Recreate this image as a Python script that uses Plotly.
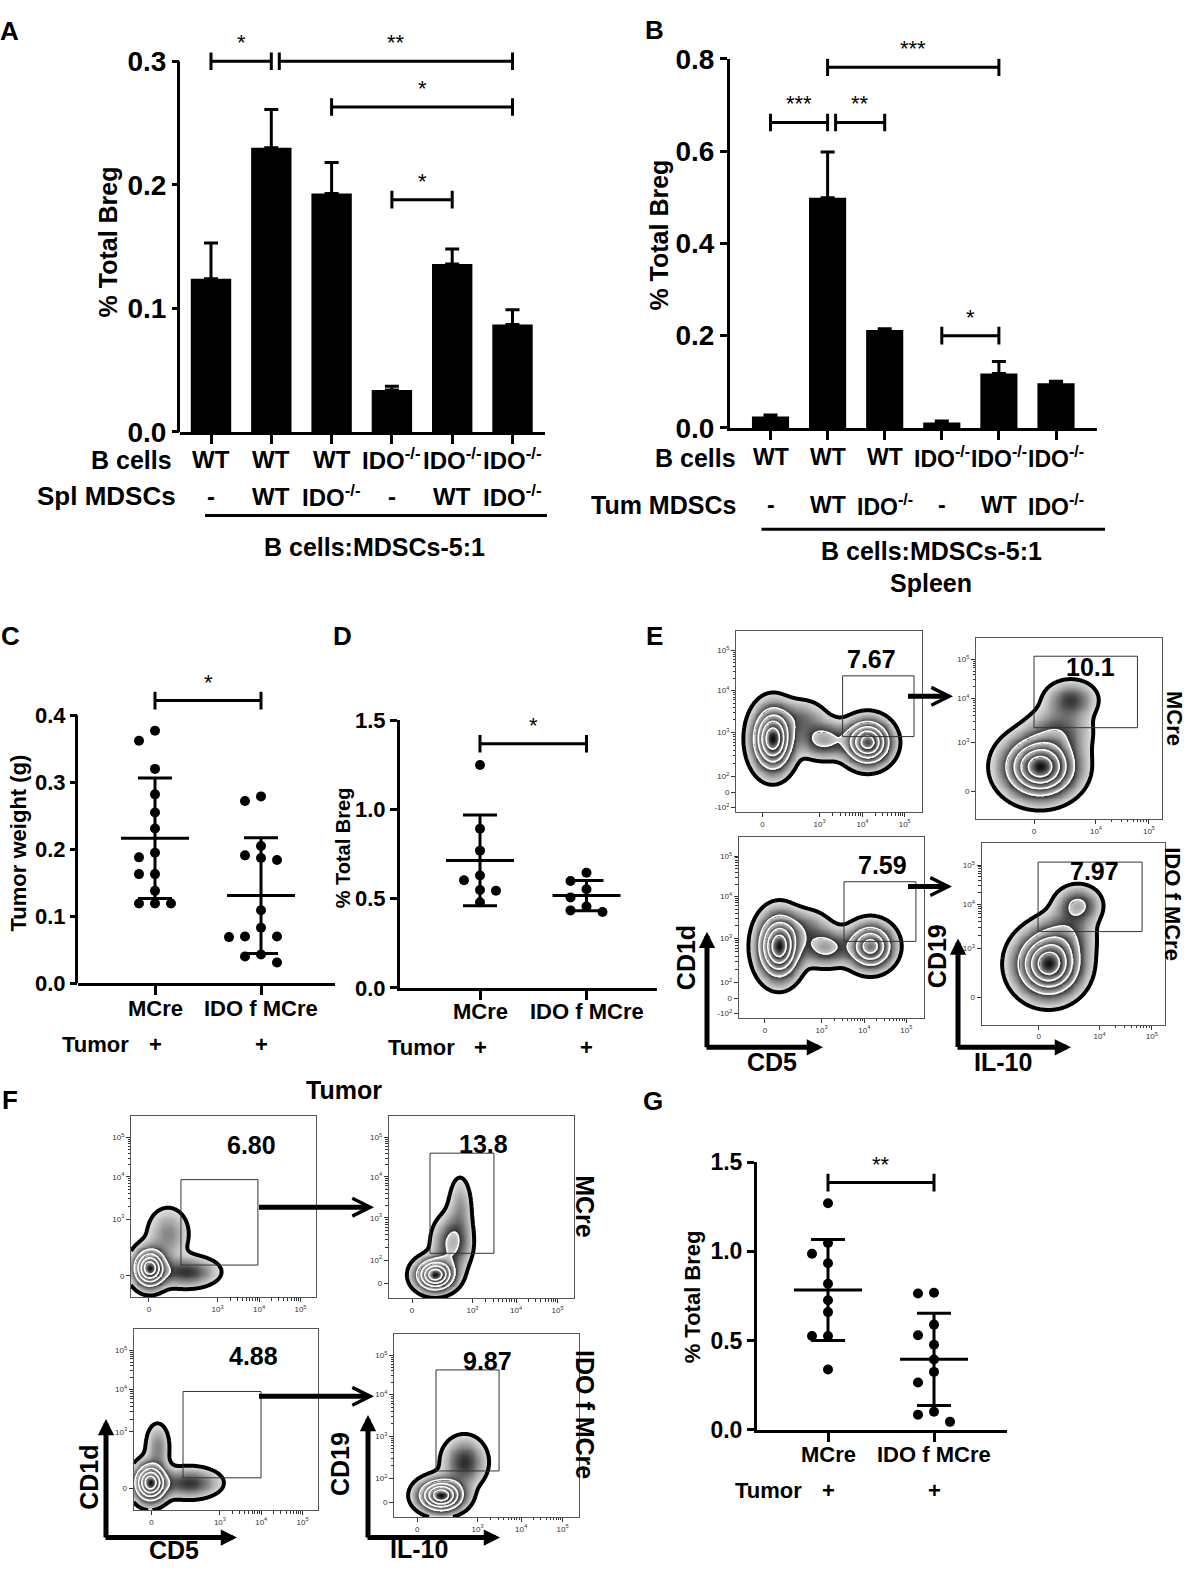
import numpy as np
import plotly.graph_objects as go

W, H = 1192, 1581
FONT = "Liberation Sans, Arial, Helvetica, sans-serif"

# ---------------- data: panel A (spleen MDSCs) ----------------
A_bcells = ["WT", "WT", "WT", "IDO-/-", "IDO-/-", "IDO-/-"]
A_mdscs = ["-", "WT", "IDO-/-", "-", "WT", "IDO-/-"]
A_mean = [0.124, 0.230, 0.193, 0.034, 0.136, 0.087]
A_sem = [0.029, 0.031, 0.025, 0.003, 0.012, 0.012]
A_ticks = [0.0, 0.1, 0.2, 0.3]
A_brackets = [(0, 1, 0.300, "*"), (1, 5, 0.300, "**"), (2, 5, 0.263, "*"), (3, 4, 0.188, "*")]

# ---------------- data: panel B (tumor MDSCs) ----------------
B_bcells = ["WT", "WT", "WT", "IDO-/-", "IDO-/-", "IDO-/-"]
B_mdscs = ["-", "WT", "IDO-/-", "-", "WT", "IDO-/-"]
B_mean = [0.025, 0.499, 0.212, 0.012, 0.118, 0.097]
B_sem = [0.003, 0.099, 0.003, 0.003, 0.026, 0.004]
B_ticks = [0.0, 0.2, 0.4, 0.6, 0.8]
B_brackets = [(0, 1, 0.662, "***"), (1, 2, 0.662, "**"), (1, 4, 0.782, "***"), (3, 4, 0.200, "*")]

# ---------------- data: scatter panels C, D, G ----------------
groups = ["MCre", "IDO f MCre"]
C_mcre = [0.377, 0.362, 0.320, 0.282, 0.255, 0.231, 0.195, 0.188, 0.163, 0.163, 0.138, 0.119, 0.119, 0.119]
C_ido = [0.279, 0.272, 0.205, 0.191, 0.187, 0.184, 0.109, 0.083, 0.070, 0.070, 0.069, 0.043, 0.040, 0.031]
C_ticks = [0.0, 0.1, 0.2, 0.3, 0.4]
C_brackets = [(0, 1, 0.422, "*")]

D_mcre = [1.249, 0.892, 0.769, 0.630, 0.603, 0.548, 0.544, 0.480]
D_ido = [0.645, 0.599, 0.553, 0.507, 0.456, 0.434, 0.425]
D_ticks = [0.0, 0.5, 1.0, 1.5]
D_brackets = [(0, 1, 1.368, "*")]

G_mcre = [1.269, 1.046, 0.986, 0.933, 0.818, 0.726, 0.659, 0.525, 0.525, 0.337]
G_ido = [0.768, 0.763, 0.589, 0.529, 0.476, 0.393, 0.324, 0.265, 0.101, 0.084, 0.044]
G_ticks = [0.0, 0.5, 1.0, 1.5]
G_brackets = [(0, 1, 1.385, "**")]

# ---------------- data: flow plots E (spleen) and F (tumor) ----------------
E_cd5_pos = [0.142, 0.449, 0.680, 0.907]
E_cd5_lab = ["0", "10^3", "10^4", "10^5"]
E_cd1d_pos = [0.027, 0.108, 0.195, 0.438, 0.670, 0.892]
E_cd1d_lab = ["-10^2", "0", "10^2", "10^3", "10^4", "10^5"]
E_il10_pos = [0.312, 0.645, 0.930]
E_il10_lab = ["0", "10^4", "10^5"]
E_cd19_pos = [0.151, 0.422, 0.665, 0.880]
E_cd19_lab = ["0", "10^3", "10^4", "10^5"]
F_cd5_pos = [0.097, 0.468, 0.692, 0.916]
F_cd5_lab = ["0", "10^3", "10^4", "10^5"]
F_cd1d_pos = [0.119, 0.432, 0.665, 0.881]
F_cd1d_lab = ["0", "10^3", "10^4", "10^5"]
F_il10_pos = [0.126, 0.452, 0.687, 0.911]
F_il10_lab = ["0", "10^3", "10^4", "10^5"]
F_cd19_pos = [0.081, 0.210, 0.441, 0.667, 0.882]
F_cd19_lab = ["0", "10^2", "10^3", "10^4", "10^5"]

# cell populations: [centre x, centre y, spread x, spread y, weight]
E_TL_pops = [[0.197, 0.404, 0.062, 0.100, 1.00], [0.708, 0.385, 0.070, 0.070, 0.95],
             [0.470, 0.400, 0.080, 0.060, 0.30], [0.350, 0.520, 0.080, 0.060, 0.15]]
E_TR_pops = [[0.344, 0.287, 0.110, 0.095, 1.00], [0.510, 0.660, 0.080, 0.060, 0.22], [0.450, 0.490, 0.100, 0.080, 0.18]]
E_BL_pops = [[0.218, 0.395, 0.065, 0.100, 1.00], [0.713, 0.395, 0.070, 0.070, 0.75],
             [0.470, 0.390, 0.080, 0.060, 0.30], [0.360, 0.500, 0.080, 0.060, 0.15]]
E_BR_pops = [[0.366, 0.335, 0.100, 0.100, 1.00], [0.527, 0.660, 0.070, 0.060, 0.28], [0.460, 0.500, 0.090, 0.080, 0.18]]
F_TL_pops = [[0.100, 0.162, 0.050, 0.060, 1.00], [0.300, 0.140, 0.100, 0.050, 0.25], [0.200, 0.350, 0.070, 0.090, 0.15]]
F_TR_pops = [[0.250, 0.129, 0.060, 0.050, 1.00], [0.385, 0.500, 0.040, 0.110, 0.12], [0.340, 0.300, 0.060, 0.090, 0.28]]
F_BL_pops = [[0.090, 0.151, 0.050, 0.060, 1.00], [0.300, 0.150, 0.100, 0.050, 0.25], [0.130, 0.350, 0.040, 0.080, 0.15]]
F_BR_pops = [[0.254, 0.118, 0.070, 0.050, 1.00], [0.380, 0.300, 0.070, 0.080, 0.25]]

# gates [x0, x1, y0, y1] in frame fractions and gate frequencies
E_TL_gate = [0.573, 0.957, 0.416, 0.751]
E_TR_gate = [0.312, 0.868, 0.503, 0.897]
E_BL_gate = [0.570, 0.959, 0.422, 0.751]
E_BR_gate = [0.309, 0.877, 0.514, 0.897]
F_TL_gate = [0.270, 0.686, 0.178, 0.649]
F_TR_gate = [0.223, 0.568, 0.247, 0.796]
F_BL_gate = [0.268, 0.691, 0.178, 0.654]
F_BR_gate = [0.227, 0.568, 0.251, 0.802]
E_pct = ["7.67", "10.1", "7.59", "7.97"]
F_pct = ["6.80", "13.8", "4.88", "9.87"]

# ======================================================================
fig = go.Figure()
shapes = []
ann = []
axes = {}


def XA(n):
    return "x" if n == 1 else "x%d" % n


def YA(n):
    return "y" if n == 1 else "y%d" % n


def XK(n):
    return "xaxis" if n == 1 else "xaxis%d" % n


def YK(n):
    return "yaxis" if n == 1 else "yaxis%d" % n


def fmt_geno(s):
    return s.replace("-/-", "<sup>-/-</sup>")


def sup(lab):
    if lab.startswith("-10^"):
        return "-10<sup>" + lab[4:] + "</sup>"
    if lab.startswith("10^"):
        return "10<sup>" + lab[3:] + "</sup>"
    return lab


def px(x, y):
    return x / W, 1 - y / H


def text(x, y, s, size, bold=True, angle=0, xanchor="center", yanchor="middle"):
    X, Y = px(x, y)
    ann.append(dict(x=X, y=Y, xref="paper", yref="paper", text=s, showarrow=False,
                    textangle=angle, xanchor=xanchor, yanchor=yanchor,
                    font=dict(size=size, family=FONT, color="black",
                              weight="bold" if bold else "normal")))


def cat_text(n, i, y, s, size):
    ann.append(dict(x=i, y=1 - y / H, xref=XA(n), yref="paper", text=s, showarrow=False,
                    xanchor="center", yanchor="middle",
                    font=dict(size=size, family=FONT, color="black", weight="bold")))


def arrow(x0, y0, x1, y1, head=2, width=5, size=0.65):
    X, Y = px(x1, y1)
    ann.append(dict(x=X, y=Y, xref="paper", yref="paper", ax=x0 - x1, ay=y0 - y1,
                    axref="pixel", ayref="pixel", showarrow=True, text=" ",
                    arrowhead=head, arrowwidth=width, arrowsize=size,
                    arrowcolor="black", standoff=0, font=dict(size=2)))


def hline(x0, x1, y, w=3):
    X0, Y = px(x0, y)
    X1, _ = px(x1, y)
    shapes.append(dict(type="line", xref="paper", yref="paper", x0=X0, x1=X1, y0=Y, y1=Y,
                       line=dict(color="black", width=w)))


def data_axes(n, x0, x1, c0, dc, ncat, y0px, yvpx, yv, rmax, ticks, tsize, native=True):
    ppu = (y0px - yvpx) / yv
    ytop = y0px - rmax * ppu
    axes[XK(n)] = dict(domain=[x0 / W, x1 / W], range=[(x0 - c0) / dc, (x1 - c0) / dc],
                       anchor=YA(n), showline=True, linewidth=3, linecolor="black",
                       ticks="outside", ticklen=9, tickwidth=3, tickcolor="black",
                       tickvals=list(range(ncat)), showticklabels=False,
                       showgrid=False, zeroline=False, fixedrange=True)
    axes[YK(n)] = dict(domain=[1 - y0px / H, 1 - ytop / H], range=[0, rmax],
                       anchor=XA(n), showline=native, linewidth=3, linecolor="black",
                       ticks="outside", ticklen=7, tickwidth=3, tickcolor="black",
                       tickvals=ticks, ticktext=["%.1f" % t for t in ticks],
                       tickfont=dict(size=tsize, family=FONT, color="black", weight="bold"),
                       showgrid=False, zeroline=False, fixedrange=True)
    if not native:
        off = -1.5 / (x1 - x0)
        shapes.append(dict(type="line", xref=XA(n) + " domain", yref=YA(n), x0=off, x1=off,
                           y0=0, y1=max(ticks), line=dict(color="black", width=3)))
    return ppu


def brackets(n, blist, ppu, dc, lsize=22):
    dy = 9.0 / ppu
    ends = set()
    for (i, j, y, lab) in blist:
        ends.add((j, y))
    for (i, j, y, lab) in blist:
        xa = i + (8.0 / dc if (i, y) in ends else 0)
        xb = j
        path = "M %f,%f L %f,%f M %f,%f L %f,%f M %f,%f L %f,%f" % (
            xa, y - dy, xa, y + dy, xa, y, xb, y, xb, y - dy, xb, y + dy)
        shapes.append(dict(type="path", xref=XA(n), yref=YA(n), path=path,
                           line=dict(color="black", width=3)))
        ann.append(dict(x=(xa + xb) / 2, y=y, xref=XA(n), yref=YA(n), text=lab,
                        showarrow=False, yanchor="bottom", yshift=4,
                        font=dict(size=lsize, family=FONT, color="black", weight="normal")))


def swarm(vals, ppu, dc, step=16.0, mind=12.0):
    order = np.argsort(-np.asarray(vals), kind="stable")
    placed = []
    offs = np.zeros(len(vals))
    for i in order:
        yp = vals[i] * ppu
        chosen = 0.0
        for k in [0, -1, 1, -2, 2, -3, 3]:
            xo = k * step
            if all(np.hypot(xo - a, yp - b) >= mind for a, b in placed):
                chosen = xo
                break
        placed.append((chosen, yp))
        offs[i] = chosen
    return offs / dc


def scatter_panel(n, sets, ppu, dc):
    for g, vals in enumerate(sets):
        v = np.asarray(vals, dtype=float)
        xs = g + swarm(v, ppu, dc)
        m = v.mean()
        sd = v.std(ddof=1)
        hw = 34.0 / dc
        cw = 17.0 / dc
        lx = [g - hw, g + hw, None, g, g, None, g - cw, g + cw, None, g - cw, g + cw]
        ly = [m, m, None, m - sd, m + sd, None, m + sd, m + sd, None, m - sd, m - sd]
        fig.add_trace(go.Scatter(x=lx, y=ly, mode="lines", line=dict(color="black", width=3),
                                 xaxis=XA(n), yaxis=YA(n), hoverinfo="skip"))
        fig.add_trace(go.Scatter(x=xs, y=v, mode="markers",
                                 marker=dict(color="black", size=10),
                                 xaxis=XA(n), yaxis=YA(n), cliponaxis=False))


# ---------------- Panel A ----------------
ppuA = data_axes(1, 180, 545, 211, 60.3, 6, 425.3, 47.2, 0.3, 0.31, A_ticks, 28, native=False)
fig.add_trace(go.Bar(x=list(range(6)), y=A_mean, width=0.67, marker=dict(color="black", line=dict(width=0)),
                     error_y=dict(type="data", array=A_sem, arrayminus=[0] * 6, symmetric=False,
                                  color="black", thickness=3, width=7),
                     xaxis="x", yaxis="y"))
brackets(1, A_brackets, ppuA, 60.3)
for i in range(6):
    cat_text(1, i, 453, fmt_geno(A_bcells[i]), 24)
    cat_text(1, i, 491, fmt_geno(A_mdscs[i]), 24)
text(174, 454, "B cells", 25, xanchor="right")
text(178, 491, "Spl MDSCs", 26, xanchor="right")
hline(205, 547, 510.6)
text(374, 542.6, "B cells:MDSCs-5:1", 25)
text(108, 232, "% Total Breg", 25, angle=-90)
text(9, 16, "A", 26)

# ---------------- Panel B ----------------
ppuB = data_axes(2, 730, 1097, 770.5, 57.1, 6, 421.2, 44.7, 0.8, 0.8, B_ticks, 28)
fig.add_trace(go.Bar(x=list(range(6)), y=B_mean, width=0.65, marker=dict(color="black", line=dict(width=0)),
                     error_y=dict(type="data", array=B_sem, arrayminus=[0] * 6, symmetric=False,
                                  color="black", thickness=3, width=7),
                     xaxis="x2", yaxis="y2"))
brackets(2, B_brackets, ppuB, 57.1)
for i in range(6):
    cat_text(2, i, 451, fmt_geno(B_bcells[i]), 23)
    cat_text(2, i, 500, fmt_geno(B_mdscs[i]), 23)
text(738, 452, "B cells", 25, xanchor="right")
text(738, 500, "Tum MDSCs", 25, xanchor="right")
hline(761.5, 1105, 524.6)
text(931, 547, "B cells:MDSCs-5:1", 25)
text(931, 579.5, "Spleen", 25)
text(659, 225, "% Total Breg", 25, angle=-90)
text(654, 15, "B", 26)

# ---------------- Panel C ----------------
ppuC = data_axes(3, 78, 335, 155, 106, 2, 987.7, 714.3, 0.4, 0.46, C_ticks, 22, native=False)
scatter_panel(3, [C_mcre, C_ido], ppuC, 106)
brackets(3, C_brackets, ppuC, 106)
for i in range(2):
    cat_text(3, i, 1013, groups[i], 22)
    cat_text(3, i, 1050, "+", 22)
text(95, 1050, "Tumor", 22)
text(18, 845, "Tumor weight (g)", 22, angle=-90)
text(10, 633, "C", 26)

# ---------------- Panel D ----------------
ppuD = data_axes(4, 400, 657, 480, 106.5, 2, 992.3, 719.3, 1.5, 1.5, D_ticks, 22)
scatter_panel(4, [D_mcre, D_ido], ppuD, 106.5)
brackets(4, D_brackets, ppuD, 106.5)
for i in range(2):
    cat_text(4, i, 1016.7, groups[i], 22)
    cat_text(4, i, 1053, "+", 22)
text(421, 1053, "Tumor", 22)
text(343, 850, "% Total Breg", 20, angle=-90)
text(342, 633, "D", 26)

# ---------------- Panel G ----------------
ppuG = data_axes(5, 757, 1007, 828, 106, 2, 1443, 1170, 1.5, 1.5, G_ticks, 23)
scatter_panel(5, [G_mcre, G_ido], ppuG, 106)
brackets(5, G_brackets, ppuG, 106)
for i in range(2):
    cat_text(5, i, 1468, groups[i], 22)
    cat_text(5, i, 1505, "+", 22)
text(768, 1505, "Tumor", 22)
text(692, 1308, "% Total Breg", 22, angle=-90)
text(653, 1108, "G", 26)


# ---------------- Flow plots ----------------
def minors(pos, lab):
    out = []
    for k in range(len(pos) - 1):
        if lab[k].startswith("10^") and lab[k + 1].startswith("10^"):
            for m in range(2, 10):
                out.append(pos[k] + (pos[k + 1] - pos[k]) * np.log10(m))
    return out


def flow_axis(pos, lab):
    return dict(tickvals=pos, ticktext=[sup(l) for l in lab], ticks="outside", ticklen=4,
                tickwidth=1, tickcolor="#333", range=[0, 1], showline=True, mirror=True,
                linewidth=1, linecolor="#555", showgrid=False, zeroline=False, fixedrange=True,
                tickfont=dict(size=8, family=FONT, color="#333", weight="normal"),
                minor=dict(tickvals=minors(pos, lab), ticks="outside", ticklen=2.5,
                           tickwidth=1, tickcolor="#333"))


OUTLINE = 0.04
LEVELS = [0.25, 0.45, 0.65, 0.85]
bounds = [OUTLINE] + LEVELS + [1.0]
band_light = ["#e4e4e4", "#d4d4d4", "#cccccc", "#c4c4c4", "#b8b8b8"]
band_dark = ["#2c2c2c", "#2a2a2a", "#262626", "#222222", "#101010"]
zebra = [[0.0, "white"], [OUTLINE, "white"]]
for k in range(len(bounds) - 1):
    zebra.append([bounds[k], band_light[k]])
    zebra.append([bounds[k + 1], band_dark[k]])


def flow_plot(n, box, xpos, xlab, ypos, ylab, pops, gate, pct, pctpos):
    x0, x1, y0, y1 = box
    ax = flow_axis(xpos, xlab)
    ax.update(domain=[x0 / W, x1 / W], anchor=YA(n))
    ay = flow_axis(ypos, ylab)
    ay.update(domain=[1 - y1 / H, 1 - y0 / H], anchor=XA(n))
    axes[XK(n)] = ax
    axes[YK(n)] = ay
    g = np.linspace(0, 1, 201)
    gx, gy = np.meshgrid(g, g)
    z = np.zeros_like(gx)
    for cx, cy, sx, sy, w in pops:
        z += w * np.exp(-((gx - cx) ** 2 / (2 * sx ** 2) + (gy - cy) ** 2 / (2 * sy ** 2)))
    z = z / z.max()
    common = dict(x=g, y=g, z=z, xaxis=XA(n), yaxis=YA(n), showscale=False,
                  hoverinfo="skip", autocontour=False)
    fig.add_trace(go.Contour(**common, colorscale=zebra, zmin=0, zmax=1,
                             contours=dict(coloring="heatmap", start=OUTLINE, end=1.0, size=0.2,
                                           showlines=False), line=dict(width=0)))
    fig.add_trace(go.Contour(**common, colorscale=[[0, "white"], [1, "white"]],
                             contours=dict(coloring="none", start=LEVELS[0], end=LEVELS[-1] + 0.001,
                                           size=LEVELS[1] - LEVELS[0]),
                             line=dict(color="white", width=1.6, smoothing=1)))
    fig.add_trace(go.Contour(**common, colorscale=[[0, "black"], [1, "black"]],
                             contours=dict(coloring="none", start=OUTLINE, end=OUTLINE + 0.001, size=1),
                             line=dict(color="black", width=4, smoothing=1)))
    shapes.append(dict(type="rect", xref=XA(n), yref=YA(n), x0=gate[0], x1=gate[1],
                       y0=gate[2], y1=gate[3], line=dict(color="#333", width=1), layer="above"))
    ann.append(dict(x=pctpos[0], y=pctpos[1], xref=XA(n), yref=YA(n), text=pct,
                    showarrow=False, font=dict(size=25, family=FONT, color="black", weight="bold")))


flow_plot(6, (736, 922, 628, 813), E_cd5_pos, E_cd5_lab, E_cd1d_pos, E_cd1d_lab, E_TL_pops, E_TL_gate, E_pct[0], (0.731, 0.843))
flow_plot(7, (976, 1162, 635, 820), E_il10_pos, E_il10_lab, E_cd19_pos, E_cd19_lab, E_TR_pops, E_TR_gate, E_pct[1], (0.618, 0.838))
flow_plot(8, (738.6, 923.5, 838, 1023), E_cd5_pos, E_cd5_lab, E_cd1d_pos, E_cd1d_lab, E_BL_pops, E_BL_gate, E_pct[2], (0.780, 0.843))
flow_plot(9, (981.5, 1164.6, 845, 1030), E_il10_pos, E_il10_lab, E_cd19_pos, E_cd19_lab, E_BR_pops, E_BR_gate, E_pct[3], (0.615, 0.849))
flow_plot(10, (131, 316, 1123, 1308), F_cd5_pos, F_cd5_lab, F_cd1d_pos, F_cd1d_lab, F_TL_pops, F_TL_gate, F_pct[0], (0.654, 0.838))
flow_plot(11, (388.7, 574, 1123, 1309), F_il10_pos, F_il10_lab, F_cd19_pos, F_cd19_lab, F_TR_pops, F_TR_gate, F_pct[1], (0.509, 0.844))
flow_plot(12, (133.6, 318, 1340, 1525), F_cd5_pos, F_cd5_lab, F_cd1d_pos, F_cd1d_lab, F_BL_pops, F_BL_gate, F_pct[2], (0.651, 0.849))
flow_plot(13, (394, 579, 1345, 1532), F_il10_pos, F_il10_lab, F_cd19_pos, F_cd19_lab, F_BR_pops, F_BR_gate, F_pct[3], (0.507, 0.853))

# E decorations
text(654, 633, "E", 26)
arrow(906, 695, 953, 695, head=5, width=5, size=0.7)
arrow(906, 889, 952, 889, head=5, width=5, size=0.7)
text(1174, 717, "MCre", 22, angle=90)
text(1173, 907, "IDO f MCre", 22, angle=90)
arrow(707, 1053, 707, 935)
arrow(704.5, 1053, 823, 1053)
arrow(958, 1053, 958, 942)
arrow(955.5, 1053, 1071, 1053)
text(686, 962, "CD1d", 25, angle=-90)
text(772, 1068, "CD5", 25)
text(937, 960, "CD19", 25, angle=-90)
text(1003, 1068, "IL-10", 25)

# F decorations
text(10, 1107, "F", 26)
text(344, 1097, "Tumor", 25)
arrow(257, 1216, 374, 1216, head=5, width=5, size=0.7)
arrow(257, 1409, 374, 1409, head=5, width=5, size=0.7)
text(585, 1215, "MCre", 25, angle=90)
text(585, 1427, "IDO f MCre", 25, angle=90)
arrow(106, 1553, 106, 1432)
arrow(103.5, 1553, 237, 1553)
arrow(368, 1553, 368, 1428)
arrow(365.5, 1553, 500, 1553)
text(89, 1492, "CD1d", 25, angle=-90)
text(174, 1566, "CD5", 25)
text(340, 1478, "CD19", 25, angle=-90)
text(419, 1565, "IL-10", 25)

fig.update_layout(width=W, height=H, margin=dict(l=0, r=0, t=0, b=0),
                  paper_bgcolor="white", plot_bgcolor="rgba(0,0,0,0)", showlegend=False,
                  font=dict(family=FONT, color="black"), shapes=shapes, annotations=ann, **axes)
fig.write_html("out.html", config={"displayModeBar": False, "staticPlot": True},
               post_script="document.body.style.margin='0px';document.body.style.overflow='hidden';")
